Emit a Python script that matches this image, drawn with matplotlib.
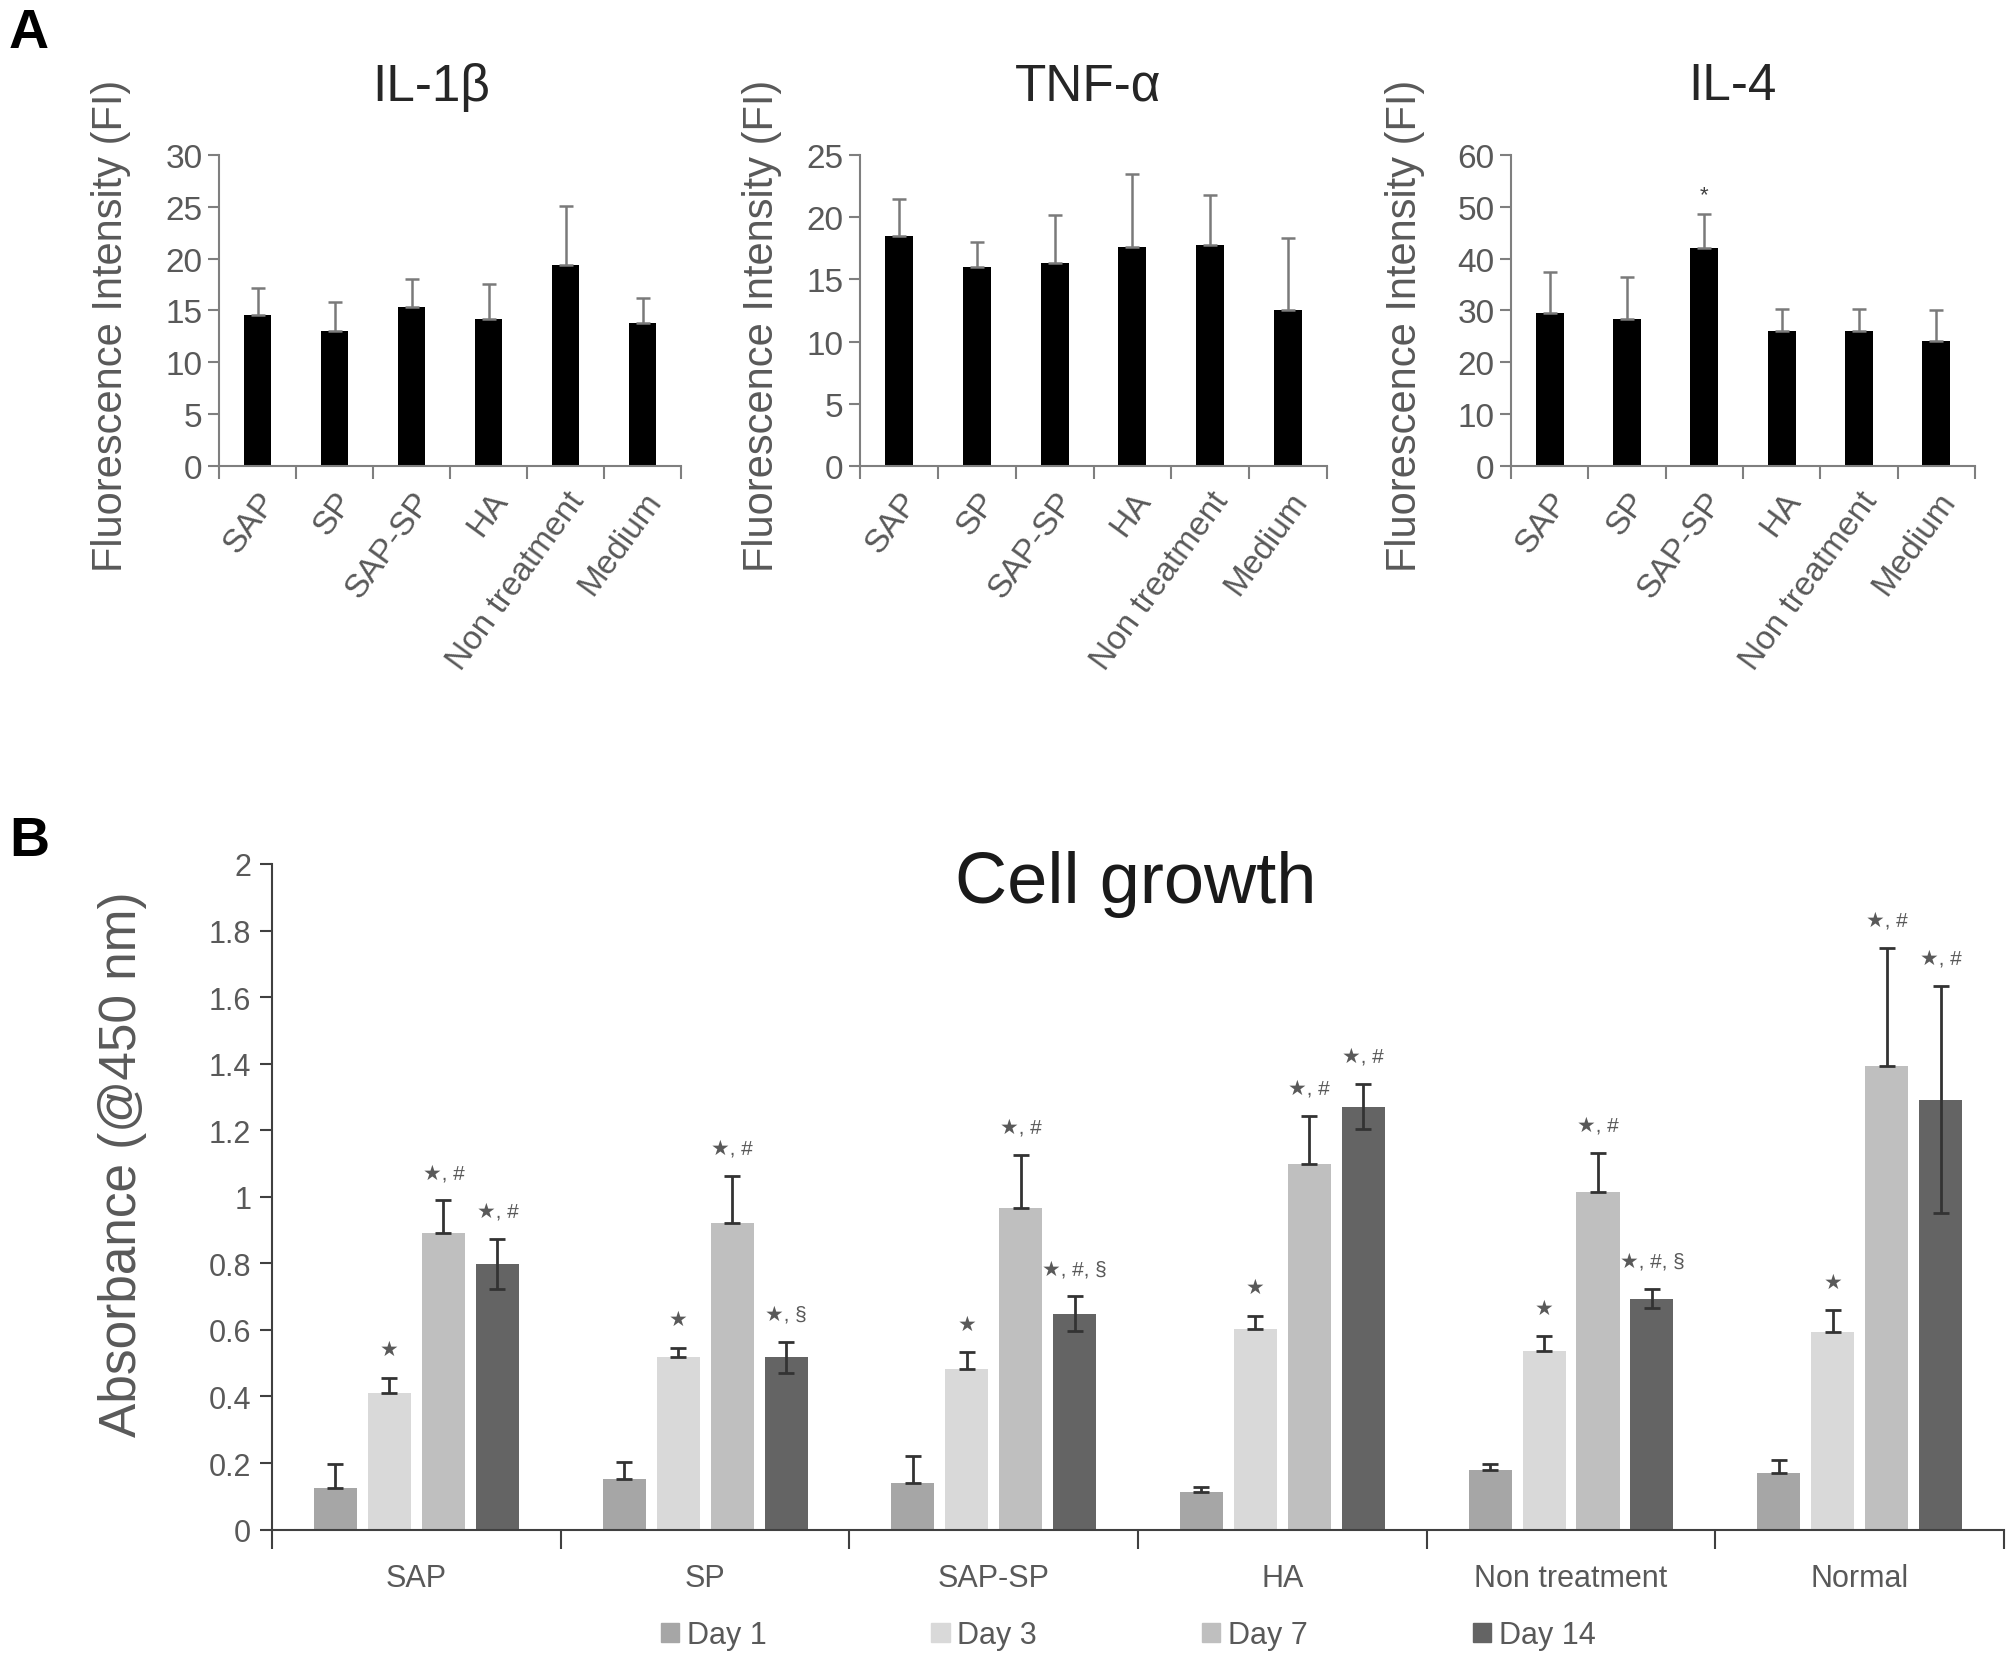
import matplotlib.pyplot as plt
import numpy as np
from matplotlib.patches import Patch

plt.rcParams['font.family'] = ['Liberation Sans', 'DejaVu Sans']

# Panel A data (fluorescence intensity, upper error only)
groups_a = ['SAP', 'SP', 'SAP-SP', 'HA', 'Non treatment', 'Medium']
il1b = [14.6, 13.0, 15.3, 14.2, 19.4, 13.8]
il1b_err = [2.6, 2.8, 2.75, 3.4, 5.7, 2.4]
tnfa = [18.5, 16.0, 16.3, 17.6, 17.8, 12.5]
tnfa_err = [3.0, 2.0, 3.9, 5.9, 4.0, 5.8]
il4 = [29.6, 28.3, 42.1, 26.0, 26.0, 24.1]
il4_err = [7.9, 8.2, 6.6, 4.2, 4.2, 5.9]

# Panel B data (absorbance @450 nm)
groups_b = ['SAP', 'SP', 'SAP-SP', 'HA', 'Non treatment', 'Normal']
days = ['Day 1', 'Day 3', 'Day 7', 'Day 14']
day1 = [0.125, 0.152, 0.141, 0.114, 0.178, 0.171]
day1_err = [0.072, 0.052, 0.079, 0.014, 0.019, 0.037]
day3 = [0.412, 0.518, 0.482, 0.603, 0.538, 0.593]
day3_err = [0.045, 0.029, 0.052, 0.040, 0.044, 0.066]
day7 = [0.891, 0.921, 0.965, 1.098, 1.014, 1.394]
day7_err = [0.098, 0.142, 0.162, 0.144, 0.117, 0.353]
day14 = [0.798, 0.518, 0.649, 1.271, 0.694, 1.292]
day14_err = [0.076, 0.047, 0.052, 0.068, 0.029, 0.342]
ann3 = ['★'] * 6
ann7 = ['★, #'] * 6
ann14 = ['★, #', '★, §', '★, #, §', '★, #', '★, #, §', '★, #']

grey_txt = '#595959'
axis_col = '#7f7f7f'

fig = plt.figure(figsize=(20.08, 16.56), dpi=100)

# ---- Panel A ----
panels = [
    ('IL-1β', il1b, il1b_err, 30, 5, [0.1091, 0.718, 0.2301, 0.1878], 431, 111),
    ('TNF-α', tnfa, tnfa_err, 25, 5, [0.4283, 0.718, 0.2326, 0.1878], 1088, 762),
    ('IL-4', il4, il4_err, 60, 10, [0.7525, 0.718, 0.2311, 0.1878], 1732, 1405),
]
x = np.arange(len(groups_a))
for title, vals, errs, ymax, ystep, pos, tx, lx in panels:
    ax = fig.add_axes(pos)
    ax.bar(x, vals, width=0.36, color='black', zorder=2)
    ax.errorbar(x, vals, yerr=[np.zeros(len(vals)), errs], fmt='none',
                ecolor='#7a7a7a', elinewidth=1.8, capsize=5, capthick=1.8, zorder=3)
    ax.set_xlim(-0.5, 5.5)
    ax.set_ylim(0, ymax)
    ax.set_yticks(np.arange(0, ymax + 1, ystep))
    ax.set_xticks(np.arange(-0.5, 6.0, 1.0))
    ax.set_xticklabels([])
    ax.set_xticks(x, minor=True)
    ax.set_xticklabels(groups_a, minor=True, rotation=54, ha='right',
                       rotation_mode='anchor', fontsize=24, color=grey_txt)
    ax.tick_params(axis='x', which='minor', length=0, pad=14)
    ax.tick_params(axis='x', which='major', length=9, width=1.5, color=axis_col)
    ax.tick_params(axis='y', length=8, width=1.5, color=axis_col,
                   labelsize=24, labelcolor=grey_txt, pad=4)
    for s in ['top', 'right']:
        ax.spines[s].set_visible(False)
    for s in ['left', 'bottom']:
        ax.spines[s].set_color(axis_col)
        ax.spines[s].set_linewidth(1.5)
    fig.text(tx / 2008, 1 - 87 / 1656, title, ha='center', va='center',
             fontsize=37, color='#262626')
    fig.text(lx / 2008, 1 - 326 / 1656, 'Fluorescence Intensity (FI)',
             rotation=90, ha='center', va='center', fontsize=30, color=grey_txt)
    if title == 'IL-4':
        ax.text(2, 52.4, '*', ha='center', va='center', fontsize=16, color='#404040')

# ---- Panel B ----
axb = fig.add_axes([0.1355, 0.0757, 0.8625, 0.402])
xb = np.arange(len(groups_b))
series = [(day1, day1_err, '#a6a6a6', None),
          (day3, day3_err, '#d9d9d9', ann3),
          (day7, day7_err, '#bfbfbf', ann7),
          (day14, day14_err, '#646464', ann14)]
step = 0.187
for k, (vals, errs, col, ann) in enumerate(series):
    xs = xb + (k - 1.5) * step
    axb.bar(xs, vals, width=0.149, color=col, zorder=2, label=days[k])
    lower = errs if k == 3 else np.zeros(len(errs))
    axb.errorbar(xs, vals, yerr=[lower, errs], fmt='none', ecolor='#333333',
                 elinewidth=2, capsize=6, capthick=2, zorder=3)
    if ann is not None:
        for xi, v, e, a in zip(xs, vals, errs, ann):
            axb.annotate(a, (xi, v + e), xytext=(0, 20), textcoords='offset points',
                         ha='center', va='center', fontsize=15, color='#595959')

axb.set_xlim(-0.5, 5.5)
axb.set_ylim(0, 2)
axb.set_yticks(np.arange(0, 2.01, 0.2))
axb.set_yticklabels(['0', '0.2', '0.4', '0.6', '0.8', '1', '1.2', '1.4', '1.6', '1.8', '2'])
axb.set_xticks(np.arange(-0.5, 6.0, 1.0))
axb.set_xticklabels([])
axb.set_xticks(xb, minor=True)
axb.set_xticklabels(groups_b, minor=True, fontsize=22, color=grey_txt)
axb.tick_params(axis='x', which='minor', length=0, pad=24)
axb.tick_params(axis='x', which='major', length=14, width=1.5, color='#404040')
axb.tick_params(axis='y', length=9, width=1.5, color='#404040',
                labelsize=22, labelcolor=grey_txt, pad=6)
for s in ['top', 'right']:
    axb.spines[s].set_visible(False)
for s in ['left', 'bottom']:
    axb.spines[s].set_color('#404040')
    axb.spines[s].set_linewidth(1.5)

fig.text(1136 / 2008, 1 - 884 / 1656, 'Cell growth', ha='center', va='center',
         fontsize=52, color='#1a1a1a')
fig.text(123 / 2008, 1 - 1164 / 1656, 'Absorbance (@450 nm)', rotation=90,
         ha='center', va='center', fontsize=37, color=grey_txt)

handles = [Patch(color=c) for c in ['#a6a6a6', '#d9d9d9', '#bfbfbf', '#646464']]
fig.legend(handles, days, loc='center', bbox_to_anchor=(1128 / 2008, 1 - 1636 / 1656),
           ncol=4, frameon=False, fontsize=22, handlelength=0.6, handleheight=0.6,
           handletextpad=0.25, columnspacing=5.4, labelcolor=grey_txt)

# panel letters
fig.text(29 / 2008, 1 - 34 / 1656, 'A', ha='center', va='center',
         fontsize=40, fontweight='bold')
fig.text(29 / 2008, 1 - 842 / 1656, 'B', ha='center', va='center',
         fontsize=40, fontweight='bold')

fig.savefig('out.png', dpi=100)
